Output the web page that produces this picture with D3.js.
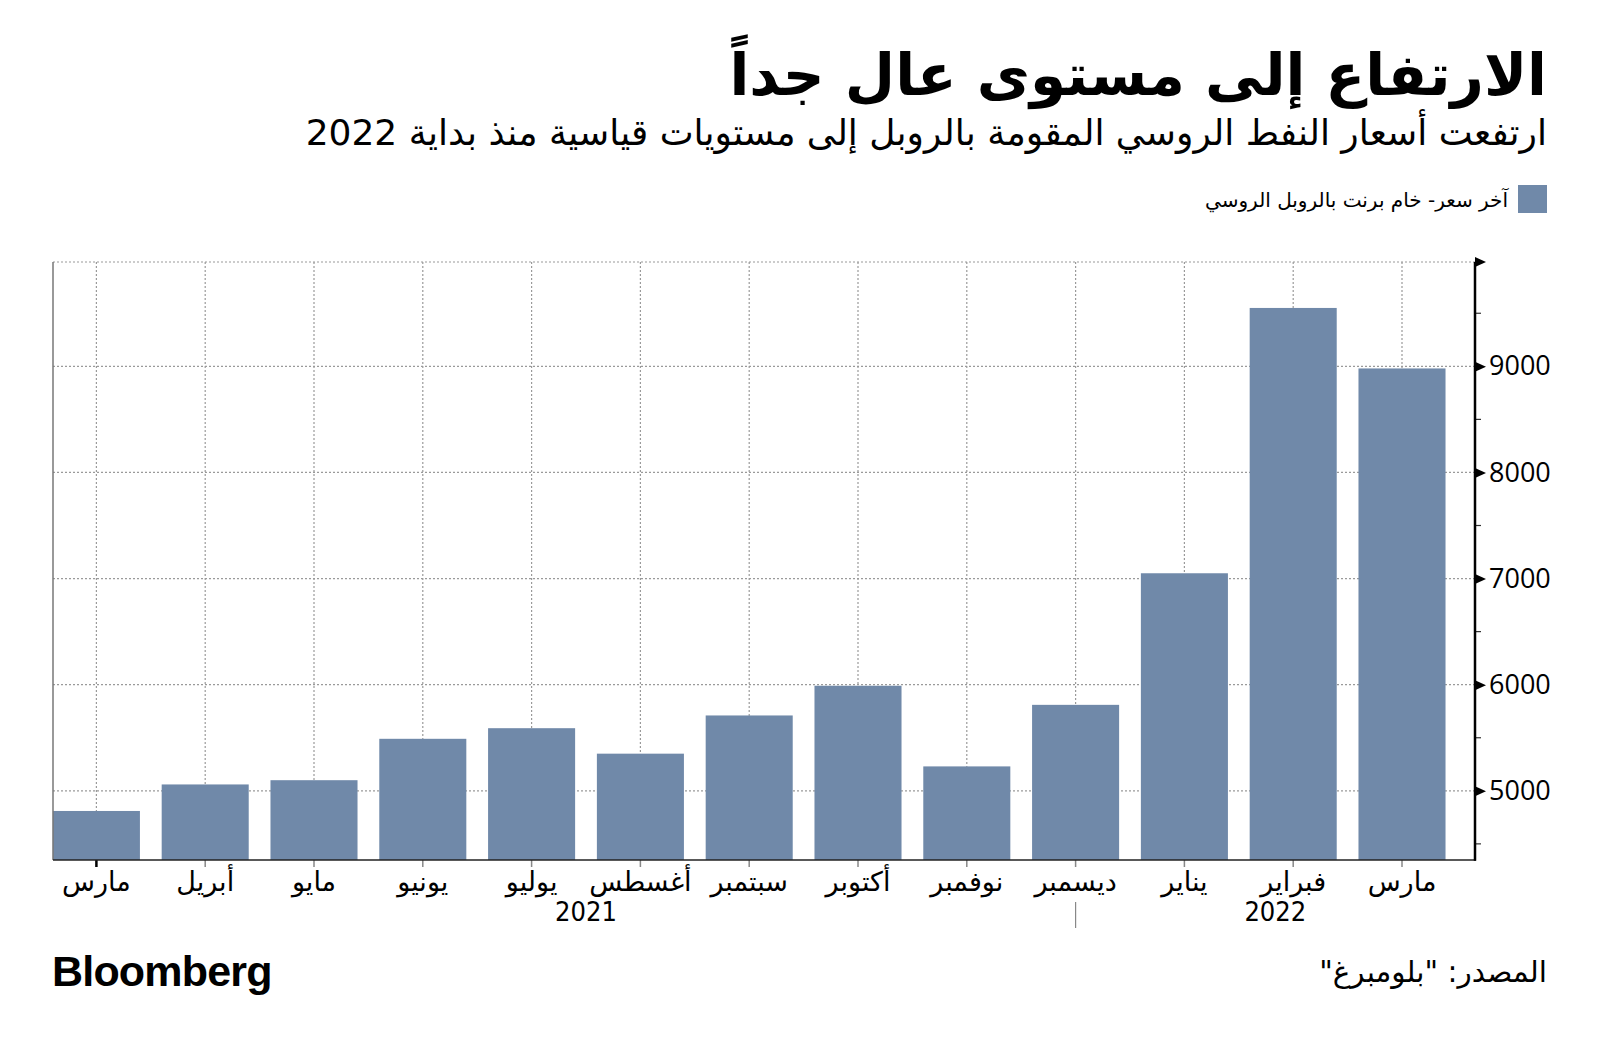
<!DOCTYPE html>
<html>
<head>
<meta charset="utf-8">
<script src="https://cdn.jsdelivr.net/npm/d3@7"></script>
<style>
  html, body { margin: 0; padding: 0; background: #fff; }
  body { width: 1600px; height: 1050px; position: relative; overflow: hidden; font-family: "DejaVu Sans", "Noto Sans", sans-serif; }
  .rtl { position: absolute; direction: rtl; text-align: right; white-space: nowrap; color: #000; }
  svg { position: absolute; left: 0; top: 0; }
</style>
</head>
<body>
<div id="title" class="rtl" style="right:53px; top:41px; font-size:58px; font-weight:bold;">الارتفاع إلى مستوى عال جداً</div>
<div id="subtitle" class="rtl" style="right:53px; top:112px; font-size:36px;">ارتفعت أسعار النفط الروسي المقومة بالروبل إلى مستويات قياسية منذ بداية 2022</div>
<div id="legendText" class="rtl" style="right:92px; top:188px; font-size:20px;">آخر سعر- خام برنت بالروبل الروسي</div>
<div id="source" class="rtl" style="right:53px; top:955px; font-size:29.5px;">المصدر: "بلومبرغ"</div>
<div id="brand" style="position:absolute; left:52px; top:947px; font-family:'Liberation Sans', Arial, sans-serif; font-weight:bold; font-size:43px; letter-spacing:-0.8px;">Bloomberg</div>
<svg id="chart" width="1600" height="1050"></svg>
<script>
// ---- Data ----
const months = ["مارس", "أبريل", "مايو", "يونيو", "يوليو", "أغسطس", "سبتمبر", "أكتوبر", "نوفمبر", "ديسمبر", "يناير", "فبراير", "مارس"];
const years  = ["2021", "2021", "2021", "2021", "2021", "2021", "2021", "2021", "2021", "2021", "2022", "2022", "2022"];
const values = [4810, 5060, 5100, 5490, 5590, 5350, 5710, 5990, 5230, 5810, 7050, 9550, 8980];
const yTicks = [5000, 6000, 7000, 8000, 9000];
const yMinorTicks = [4500, 5500, 6500, 7500, 8500, 9500];
const yearLabels = ["2021", "2022"];

const barColor = "#7089a9";
const svg = d3.select("#chart");

const plot = { left: 53, right: 1475, top: 262, bottom: 860 };

const idx = months.map((m, i) => i);
const x = d3.scaleBand().domain(idx).range([42, 1456.4]).paddingInner(0.2).paddingOuter(0.1);
const y = d3.scaleLinear().domain([4348, 9983]).range([plot.bottom, plot.top]);
const cx = i => x(i) + x.bandwidth() / 2;

// legend swatch
svg.append("rect").attr("x", 1518).attr("y", 185).attr("width", 29).attr("height", 28).attr("fill", barColor);

// horizontal gridlines
const grid = svg.append("g");
grid.selectAll("line.h").data(yTicks.concat([y.domain()[1]])).join("line")
  .attr("x1", plot.left).attr("x2", plot.right)
  .attr("y1", d => y(d)).attr("y2", d => y(d))
  .attr("stroke", "#9a9a9a").attr("stroke-width", 1.2).attr("stroke-dasharray", "2,2");
// vertical gridlines
grid.selectAll("line.v").data(idx).join("line")
  .attr("x1", d => cx(d)).attr("x2", d => cx(d))
  .attr("y1", plot.top).attr("y2", plot.bottom)
  .attr("stroke", "#9a9a9a").attr("stroke-width", 1.2).attr("stroke-dasharray", "2,2");

// bars
svg.append("g").selectAll("rect").data(values).join("rect")
  .attr("x", (d, i) => x(i)).attr("width", x.bandwidth())
  .attr("y", d => y(d)).attr("height", d => plot.bottom - y(d))
  .attr("fill", barColor);

// left axis line
svg.append("line").attr("x1", plot.left).attr("x2", plot.left).attr("y1", plot.top).attr("y2", plot.bottom)
  .attr("stroke", "#777").attr("stroke-width", 1.5);

// bottom axis
const xAxis = d3.axisBottom(x).tickSize(7).tickFormat(i => months[i]).tickPadding(10);
const gx = svg.append("g").attr("transform", `translate(0,${plot.bottom})`).call(xAxis);
gx.select(".domain").remove();
gx.selectAll(".tick line").attr("stroke", "#888").attr("stroke-width", 1.5);
gx.select(".tick line").attr("stroke", "#000").attr("stroke-width", 2.5);
gx.selectAll(".tick text").attr("font-family", "DejaVu Sans, sans-serif").attr("font-size", 27).attr("fill", "#000").attr("dy", "0.5em");
svg.append("line").attr("x1", plot.left).attr("x2", plot.right + 1).attr("y1", plot.bottom).attr("y2", plot.bottom)
  .attr("stroke", "#222").attr("stroke-width", 1.5);

// year separator at December
const decIdx = years.indexOf("2022") - 1;
svg.append("line").attr("x1", cx(decIdx)).attr("x2", cx(decIdx)).attr("y1", 902).attr("y2", 928)
  .attr("stroke", "#888").attr("stroke-width", 1.2);
// year labels
const yearPos = [ (cx(0) + cx(decIdx)) / 2, (cx(decIdx) + plot.right) / 2 ];
svg.append("g").selectAll("text").data(yearLabels).join("text")
  .attr("x", (d, i) => yearPos[i]).attr("y", 921)
  .attr("text-anchor", "middle").attr("font-family", "DejaVu Sans Condensed, DejaVu Sans, sans-serif").attr("font-size", 27)
  .text(d => d);

// right axis
const yAxis = d3.axisRight(y).tickValues(yTicks).tickSize(0).tickPadding(14).tickFormat(d3.format("d"));
const gy = svg.append("g").attr("transform", `translate(${plot.right},0)`).call(yAxis);
gy.select(".domain").remove();
gy.selectAll(".tick text").attr("font-family", "Open Sans, sans-serif").attr("font-size", 27).attr("fill", "#000");
// arrow markers at major ticks
gy.selectAll(".tick").append("path").attr("d", "M0,-5L11,0L0,5Z").attr("fill", "#000");
// minor ticks
svg.append("g").selectAll("line").data(yMinorTicks).join("line")
  .attr("x1", plot.right).attr("x2", plot.right + 6)
  .attr("y1", d => y(d)).attr("y2", d => y(d))
  .attr("stroke", "#333").attr("stroke-width", 1.2);
// axis line
svg.append("line").attr("x1", plot.right).attr("x2", plot.right).attr("y1", plot.top).attr("y2", plot.bottom + 0.75)
  .attr("stroke", "#000").attr("stroke-width", 2.5);
// top arrow
svg.append("path").attr("transform", `translate(${plot.right},${plot.top})`).attr("d", "M0,-5L11,0L0,5Z").attr("fill", "#000");
</script>
</body>
</html>
